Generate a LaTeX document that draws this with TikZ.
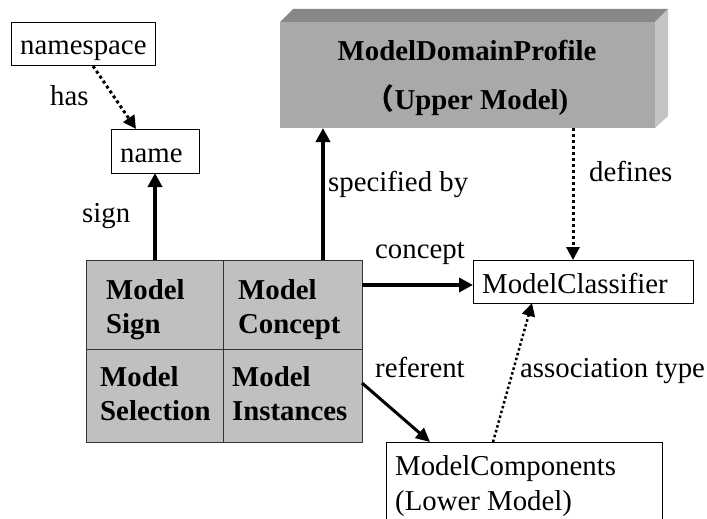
\documentclass[tikz,border=0pt]{standalone}
\usepackage{fontspec}
\setmainfont{Liberation Serif}
\newfontfamily\cjkfont{Noto Sans CJK SC}
\usetikzlibrary{arrows.meta}
\tikzset{
  txt/.style={inner sep=0pt, anchor=base west, font=\fontsize{28.8}{32}\selectfont},
  btxt/.style={txt, font=\fontsize{28.8}{32}\selectfont\bfseries},
  wbox/.style={draw=black, line width=1pt, fill=white, inner sep=0pt},
  cell/.style={draw=black!80, line width=1.2pt, fill=cellgrey, inner sep=0pt},
  solidarrow/.style={line width=4pt, -{Triangle[length=14pt,width=14pt]}},
  midarrow/.style={line width=3pt, -{Triangle[length=14pt,width=13pt]}},
  dotarrow/.style={line width=3pt, dash pattern=on 3pt off 3pt, -{Triangle[length=13pt,width=13pt]}},
  thindot/.style={line width=2.5pt, dash pattern=on 2.5pt off 2.5pt, -{Triangle[length=13pt,width=13pt]}},
}
\definecolor{cellgrey}{HTML}{C0C0C0}
\definecolor{frontgrey}{HTML}{A9A9A9}
\definecolor{topgrey}{HTML}{878787}
\definecolor{sidegrey}{HTML}{C4C4C4}
\begin{document}
\begin{tikzpicture}[x=1pt,y=-1pt]
\clip (0,0) rectangle (707,519);
\fill[white] (0,0) rectangle (707,519);

% boxes
\draw[wbox] (11,23) rectangle (155,66);
\coordinate (nsS) at (93,66);
\node[txt] (ns) at (20,55) {namespace};

\draw[wbox] (111,129) rectangle (199,173);
\coordinate (nameTip) at (136,129);
\coordinate (nameB) at (155,173);
\node[txt] (nm) at (120,162) {name};

% 3D box
\fill[topgrey] (280,22) -- (293,9) -- (668,9) -- (655,22) -- cycle;
\fill[sidegrey] (655,22) -- (668,9) -- (668,116) -- (655,128) -- cycle;
\fill[frontgrey] (280,22) rectangle (655,128);
\coordinate (mdpSpec) at (323,128);
\coordinate (mdpDef) at (573,128);
\node[btxt, anchor=base] (mdp1) at (467,61) {ModelDomainProfile};
\node[btxt, anchor=base] (mdp2) at (467,110) {{\cjkfont\bfseries （}Upper Model)};

% table
\node[cell, minimum width=137pt, minimum height=89pt, anchor=north west] (c1) at (86,260) {};
\node[cell, minimum width=139pt, minimum height=89pt, anchor=north west] (c2) at (223,260) {};
\node[cell, minimum width=137pt, minimum height=93pt, anchor=north west] (c3) at (86,349) {};
\node[cell, minimum width=139pt, minimum height=93pt, anchor=north west] (c4) at (223,349) {};
\node[btxt] (t1a) at (106,299) {Model};
\node[btxt] (t1b) at (106,333) {Sign};
\node[btxt] (t2a) at (238,299) {Model};
\node[btxt] (t2b) at (238,333) {Concept};
\node[btxt] (t3a) at (100,386) {Model};
\node[btxt] (t3b) at (100,420) {Selection};
\node[btxt] (t4a) at (232,386) {Model};
\node[btxt] (t4b) at (232,420) {Instances};

\coordinate (signS) at (155,260);
\coordinate (specS) at (323,260);
\coordinate (conS) at (362,285);
\coordinate (refS) at (362,383);

% classifier
\draw[wbox] (473,260) rectangle (693,303);
\coordinate (clsL) at (473,285);
\coordinate (clsT) at (573,260);
\coordinate (clsB) at (532,303);
\node[txt] (cls) at (482,293) {ModelClassifier};

% components
\draw[wbox] (386,442) rectangle (662,540);
\coordinate (cmpT) at (430,442);
\coordinate (cmpT2) at (493,442);
\node[txt] (cmp1) at (395,475) {ModelComponents};
\node[txt] (cmp2) at (395,510) {(Lower Model)};

% connectors
\draw[dotarrow] (nsS) -- (nameTip);
\draw[solidarrow] (signS) -- (nameB);
\draw[solidarrow] (specS) -- (mdpSpec);
\draw[dotarrow] (mdpDef) -- (clsT);
\draw[solidarrow] (conS) -- (clsL);
\draw[midarrow] (refS) -- (cmpT);
\draw[thindot] (cmpT2) -- (clsB);

% labels
\node[txt] (lhas) at (50,105) {has};
\node[txt] (lsign) at (82,222) {sign};
\node[txt] (lspec) at (328,191) {specified by};
\node[txt] (ldef) at (589,181) {defines};
\node[txt] (lcon) at (375,258) {concept};
\node[txt] (lref) at (375,377) {referent};
\node[txt] (lass) at (520,377) {association type};
\end{tikzpicture}
\end{document}
